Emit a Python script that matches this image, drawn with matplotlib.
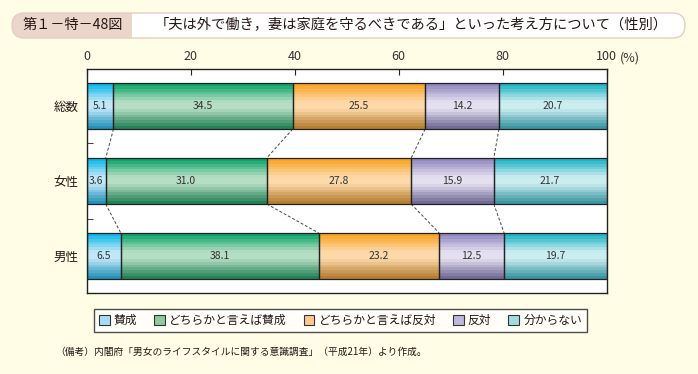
import numpy as np
import matplotlib
matplotlib.use('Agg')
import matplotlib.pyplot as plt
from matplotlib.colors import to_rgb
from matplotlib.patches import FancyBboxPatch, Rectangle, Patch

plt.rcParams['font.family'] = ['Noto Sans CJK JP', 'DejaVu Sans']

# données
categories = ['総数', '女性', '男性']
answers = ['賛成', 'どちらかと言えば賛成', 'どちらかと言えば反対', '反対', '分からない']
total = [5.1, 34.5, 25.5, 14.2, 20.7]
women = [3.6, 31.0, 27.8, 15.9, 21.7]
men = [6.5, 38.1, 23.2, 12.5, 19.7]
xticks = [0, 20, 40, 60, 80, 100]

rows = [total, women, men]

# couleurs : haut, milieu, bas du dégradé + couleur de légende
grad_cols = [
    ('#00b4e8', '#c2e8f8', '#1a8cb4'),
    ('#00a060', '#b6dec4', '#1a7c50'),
    ('#f8a018', '#fdd9aa', '#b07828'),
    ('#8a82ba', '#e4e0f0', '#6a6490'),
    ('#10b0c0', '#ccedf0', '#30909c'),
]
legend_cols = ['#a8dcf5', '#90c8a0', '#fcc890', '#c0b8dc', '#a0dce0']


def gradient(top, mid, bottom, n=16):
    top, mid, bottom = np.array(to_rgb(top)), np.array(to_rgb(mid)), np.array(to_rgb(bottom))
    out = []
    for i in range(n):
        t = (i + 0.5) / n
        if t < 0.42:
            c = top + (mid - top) * (t / 0.42)
        elif t < 0.55:
            c = mid
        else:
            c = mid + (bottom - mid) * ((t - 0.55) / 0.45)
        out.append(c)
    return np.array(out).reshape(n, 1, 3)


fig = plt.figure(figsize=(6.98, 3.74), dpi=100)
fig.patch.set_facecolor('#fffde6')

# cadre du titre
fig.patches.append(FancyBboxPatch((0.12, 3.36), 6.73, 0.25, boxstyle='round,pad=0,rounding_size=0.125',
                                  transform=fig.dpi_scale_trans, facecolor='#ecd5cb', edgecolor='none'))
fig.patches.append(FancyBboxPatch((1.32, 3.36), 5.53, 0.25, boxstyle='round,pad=0,rounding_size=0.125',
                                  transform=fig.dpi_scale_trans, facecolor='white', edgecolor='none'))
fig.patches.append(Rectangle((1.32, 3.36), 0.2, 0.25, transform=fig.dpi_scale_trans,
                             facecolor='white', edgecolor='none'))
fig.patches.append(FancyBboxPatch((0.12, 3.36), 6.73, 0.25, boxstyle='round,pad=0,rounding_size=0.125',
                                  transform=fig.dpi_scale_trans, facecolor='none', edgecolor='#e6cdc4', lw=1))
fig.text(22 / 698, 1 - 25.5 / 374, '第１－特－48図', fontsize=10.2, va='center', ha='left', color='#231815')
fig.text(155 / 698, 1 - 25.5 / 374, '「夫は外で働き，妻は家庭を守るべきである」といった考え方について（性別）',
         fontsize=10.3, va='center', ha='left', color='#231815')

ax = fig.add_axes([87 / 698, 1 - 293 / 374, 519.5 / 698, 224 / 374])
ax.set_facecolor('white')

h = 0.613
for i, vals in enumerate(rows):
    left = 0
    for j, v in enumerate(vals):
        ax.imshow(gradient(*grad_cols[j]), extent=(left, left + v, i + h / 2, i - h / 2),
                  aspect='auto', interpolation='nearest', zorder=2)
        ax.barh(i, v, left=left, height=h, facecolor='none', edgecolor='#222222', lw=0.9, zorder=3)
        ax.text(left + v / 2, i, f'{v:.1f}', ha='center', va='center', fontsize=7.5, color='#333333', zorder=4)
        left += v

# lignes pointillées entre les barres
for i in range(len(rows) - 1):
    c1 = np.cumsum(rows[i])[:-1]
    c2 = np.cumsum(rows[i + 1])[:-1]
    for a, b in zip(c1, c2):
        ax.plot([a, b], [i + h / 2, i + 1 - h / 2], ls=(0, (3, 2)), color='#444444', lw=0.7, zorder=1)

ax.set_xlim(0, 100)
ax.set_ylim(2.493, -0.493)
ax.xaxis.tick_top()
ax.set_xticks(xticks)
ax.set_xticklabels([str(t) for t in xticks])
ax.tick_params(axis='x', direction='in', length=4, pad=4, labelsize=9, colors='#222222', labelcolor='#333333')
ax.set_yticks(range(len(categories)))
ax.set_yticklabels(categories)
ax.tick_params(axis='y', which='major', length=0, pad=6, labelsize=9, labelcolor='#231815')
ax.set_yticks([0.5, 1.5], minor=True)
ax.tick_params(axis='y', which='minor', direction='in', length=4, color='#222222')
for s in ax.spines.values():
    s.set_color('#222222')
    s.set_linewidth(1)

fig.text(620 / 698, 1 - 58 / 374, '(%)', fontsize=9, va='center', ha='left', color='#333333')

handles = [Patch(facecolor=c, edgecolor='#333333', lw=0.8) for c in legend_cols]
leg = fig.legend(handles, answers, loc='center', bbox_to_anchor=(340.5 / 698, 1 - 320.5 / 374), ncol=5,
                 fontsize=8.5, frameon=True, fancybox=False, handlelength=0.9, handleheight=0.9,
                 handletextpad=0.35, columnspacing=1.45, borderpad=0.4)
leg.get_frame().set_edgecolor('#222222')
leg.get_frame().set_linewidth(1)
leg.get_frame().set_facecolor('white')
for t in leg.get_texts():
    t.set_color('#231815')

fig.text(55 / 698, 1 - 352 / 374, '（備考）内閣府「男女のライフスタイルに関する意識調査」（平成21年）より作成。',
         fontsize=7, va='center', ha='left', color='#231815')

fig.savefig('out.png', dpi=100, facecolor=fig.get_facecolor())
